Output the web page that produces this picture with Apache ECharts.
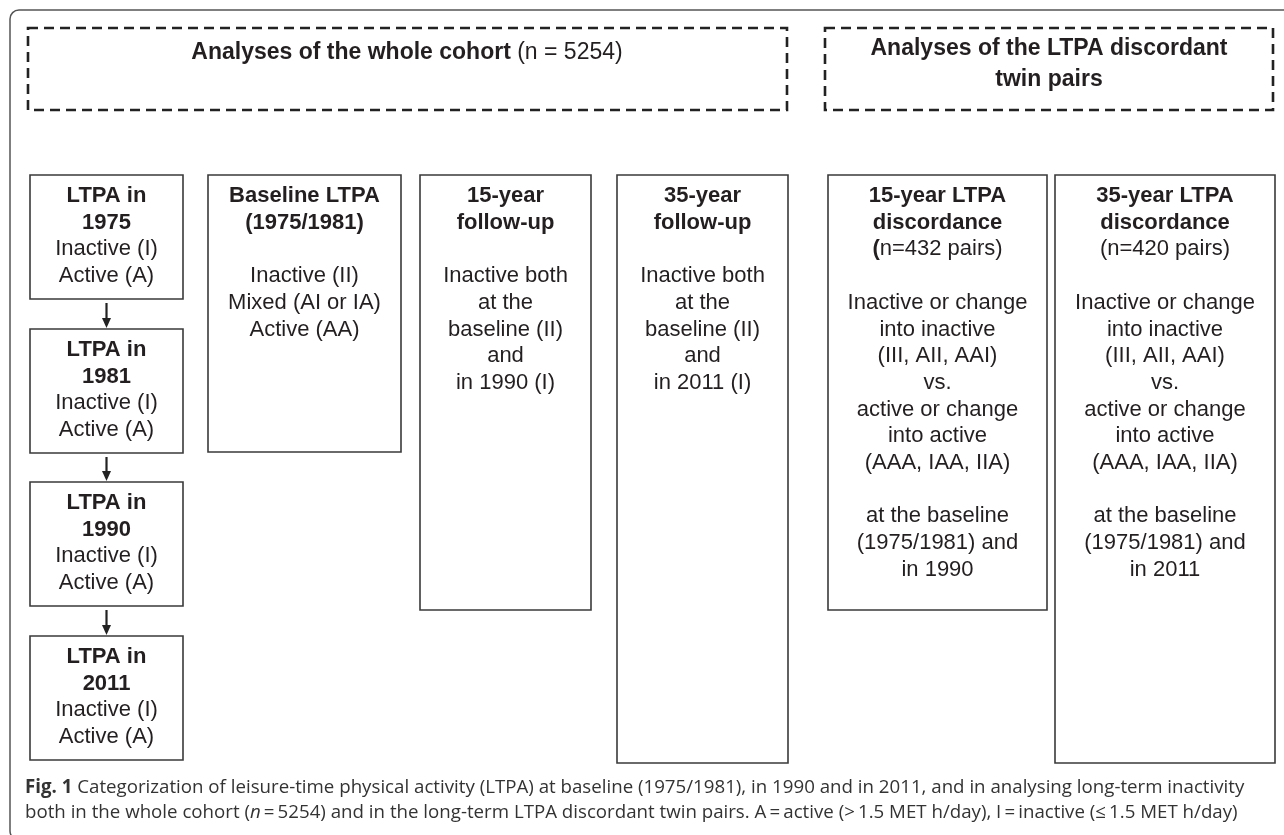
<!DOCTYPE html>
<html>
<head>
<meta charset="utf-8">
<script src="https://cdn.jsdelivr.net/npm/echarts@6/dist/echarts.min.js"></script>
<style>
  html, body { margin: 0; padding: 0; background: #ffffff; }
  #chart { width: 1284px; height: 835px; }
</style>
</head>
<body>
<div id="chart"></div>
<script>
// texts of the diagram ({b|..} = bold, {i|..} = italic)
const headerLeft = ['{b|Analyses of the whole cohort} (n = 5254)']
const headerRight = ['{b|Analyses of the LTPA discordant}', '{b|twin pairs}']

const yearBoxes = [
  ['{b|LTPA in}', '{b|1975}', 'Inactive (I)', 'Active (A)'],
  ['{b|LTPA in}', '{b|1981}', 'Inactive (I)', 'Active (A)'],
  ['{b|LTPA in}', '{b|1990}', 'Inactive (I)', 'Active (A)'],
  ['{b|LTPA in}', '{b|2011}', 'Inactive (I)', 'Active (A)']
]
const baselineBox = ['{b|Baseline LTPA}', '{b|(1975/1981)}', '', 'Inactive (II)', 'Mixed (AI or IA)', 'Active (AA)']
const followUp15 = ['{b|15-year}', '{b|follow-up}', '', 'Inactive both', 'at the', 'baseline (II)', 'and', 'in 1990 (I)']
const followUp35 = ['{b|35-year}', '{b|follow-up}', '', 'Inactive both', 'at the', 'baseline (II)', 'and', 'in 2011 (I)']
const discord15 = ['{b|15-year LTPA}', '{b|discordance}', '{b|(}n=432 pairs)', '',
  'Inactive or change', 'into inactive', '(III, AII, AAI)', 'vs.', 'active or change', 'into active',
  '(AAA, IAA, IIA)', '', 'at the baseline', '(1975/1981) and', 'in 1990']
const discord35 = ['{b|35-year LTPA}', '{b|discordance}', '(n=420 pairs)', '',
  'Inactive or change', 'into inactive', '(III, AII, AAI)', 'vs.', 'active or change', 'into active',
  '(AAA, IAA, IIA)', '', 'at the baseline', '(1975/1981) and', 'in 2011']

const captionLines = [
  '{b|Fig. 1} Categorization of leisure-time physical activity (LTPA) at baseline (1975/1981), in 1990 and in 2011, and in analysing long-term inactivity',
  'both in the whole cohort ({i|n}\u2009=\u20095254) and in the long-term LTPA discordant twin pairs. A\u2009=\u2009active (>\u20091.5 MET h/day), I\u2009=\u2009inactive (\u2264\u20091.5 MET h/day)'
]

const ink = '#231f20'
const boxFont = '"Liberation Sans", Arial, Helvetica, sans-serif'
const capFont = '"Open Sans", sans-serif'
const lineStep = 26.7

const chart = echarts.init(document.getElementById('chart'), null, { renderer: 'canvas' })
const g = []

// wrap every plain part in an explicit {r|..} style so the family sticks
function richify(str) {
  return str.split(/(\{[a-z]\|[^}]*\})/).map(function (p) {
    if (!p) return ''
    return p.charAt(0) === '{' ? p : '{r|' + p + '}'
  }).join('')
}

function textLine(str, x, y, size, family, color, align) {
  const c = color || ink
  g.push({
    type: 'text',
    x: x, y: y,
    style: {
      text: richify(str),
      align: align || 'center',
      verticalAlign: 'middle',
      fill: c,
      fontSize: size,
      fontFamily: family,
      rich: {
        r: { fontWeight: 'normal', fontSize: size, fontFamily: family, fill: c },
        b: { fontWeight: 'bold', fontSize: size, fontFamily: family, fill: c },
        i: { fontStyle: 'italic', fontSize: size, fontFamily: family, fill: c }
      }
    }
  })
}

function box(x0, x1, y0, y1, lines) {
  g.push({
    type: 'rect',
    shape: { x: x0, y: y0, width: x1 - x0, height: y1 - y0 },
    style: { fill: '#fff', stroke: '#3a3a3a', lineWidth: 1.6 }
  })
  lines.forEach(function (l, i) {
    if (l) textLine(l, (x0 + x1) / 2, y0 + 21 + i * lineStep, 22, boxFont)
  })
}

function dashedBox(x0, x1, y0, y1) {
  g.push({
    type: 'rect',
    shape: { x: x0, y: y0, width: x1 - x0, height: y1 - y0 },
    style: { fill: 'none', stroke: '#222', lineWidth: 2.6, lineDash: [10, 6] }
  })
}

function arrow(x, y0, y1) {
  g.push({
    type: 'line',
    shape: { x1: x, y1: y0, x2: x, y2: y1 - 8 },
    style: { stroke: '#222', lineWidth: 2.2 }
  })
  g.push({
    type: 'polygon',
    shape: { points: [[x - 4.5, y1 - 10], [x + 4.5, y1 - 10], [x, y1]] },
    style: { fill: '#222' }
  })
}

// outer frame (only top and left edges visible)
g.push({
  type: 'rect',
  shape: { x: 10, y: 10, width: 1320, height: 830, r: 9 },
  style: { fill: 'none', stroke: '#555', lineWidth: 1.5 }
})

// headers
dashedBox(28, 787, 28, 110)
dashedBox(825, 1273, 28, 110)
textLine(headerLeft[0], 407, 53, 23, boxFont)
headerRight.forEach(function (l, i) { textLine(l, 1049, 49 + i * 31, 23, boxFont) })

// left column with arrows
const yearTops = [175, 329, 482, 636]
yearBoxes.forEach(function (lines, i) {
  box(30, 183, yearTops[i], yearTops[i] + 124, lines)
  if (i < yearBoxes.length - 1) arrow(106.5, yearTops[i] + 128, yearTops[i + 1] - 1)
})

box(208, 401, 175, 452, baselineBox)
box(420, 591, 175, 610, followUp15)
box(617, 788, 175, 763, followUp35)
box(828, 1047, 175, 610, discord15)
box(1055, 1275, 175, 763, discord35)

// caption
captionLines.forEach(function (l, i) {
  textLine(l, 25, 788 + i * 25, 18.7, capFont, '#333', 'left')
})

chart.setOption({
  backgroundColor: '#ffffff',
  animation: false,
  graphic: { elements: g }
})
</script>
</body>
</html>
